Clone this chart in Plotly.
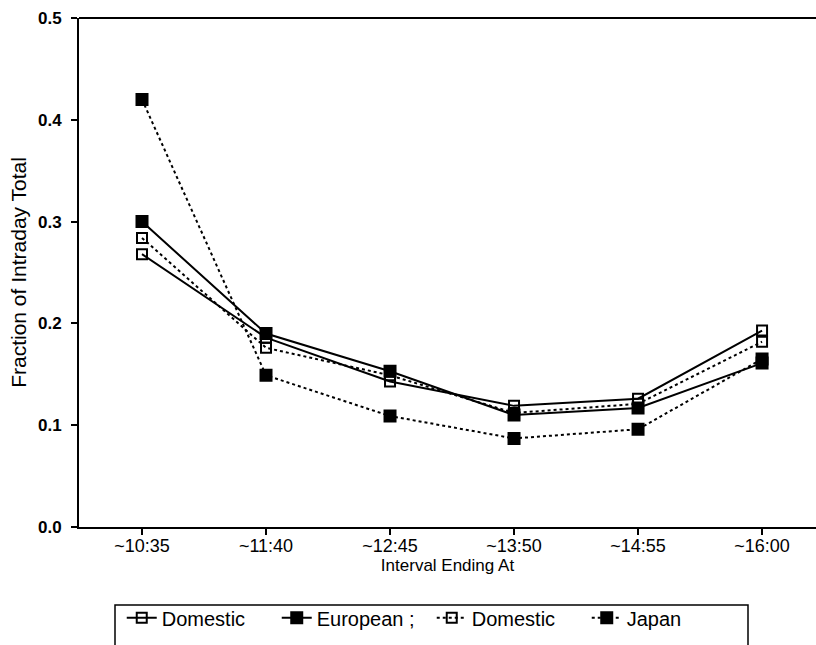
import plotly.graph_objects as go

# Interval end times (category axis)
intervals = ["~10:35", "~11:40", "~12:45", "~13:50", "~14:55", "~16:00"]

# Fraction of intraday total per interval
domestic_a = [0.268, 0.186, 0.143, 0.119, 0.126, 0.193]
european = [0.300, 0.190, 0.153, 0.110, 0.117, 0.161]
domestic_b = [0.284, 0.176, 0.149, 0.112, 0.121, 0.182]
japan = [0.420, 0.149, 0.109, 0.087, 0.096, 0.165]

y_ticks = [0.0, 0.1, 0.2, 0.3, 0.4, 0.5]

FONT = "Liberation Sans, Arial, sans-serif"

series = [
    ("Domestic", domestic_a, "solid", "square-open"),
    ("European ;", european, "solid", "square"),
    ("Domestic", domestic_b, "dot", "square-open"),
    ("Japan", japan, "dot", "square"),
]

fig = go.Figure()
xpos = list(range(len(intervals)))
for name, vals, dash, sym in series:
    fig.add_trace(go.Scatter(
        x=xpos, y=vals, name=name, mode="lines+markers",
        line=dict(color="black", width=2, dash=dash),
        marker=dict(symbol=sym, size=11 if sym == "square" else 10,
                    color="black", line=dict(color="black", width=2)),
    ))

fig.update_layout(
    width=816, height=645,
    margin=dict(l=79, r=0, t=18, b=118),
    paper_bgcolor="white", plot_bgcolor="white",
    font=dict(family=FONT, size=16, color="black"),
    showlegend=True,
    legend=dict(
        orientation="h", x=0.058, y=-0.14, xanchor="left", yanchor="top",
        font=dict(family=FONT, size=20, color="black"),
        bgcolor="rgba(0,0,0,0)", itemwidth=30, tracegroupgap=0,
        entrywidth=110, entrywidthmode="pixels",
    ),
    xaxis=dict(
        range=[-0.508, 5.435],
        tickmode="array", tickvals=xpos, ticktext=intervals,
        showgrid=False, zeroline=False,
        showline=True, linecolor="black", linewidth=2, mirror=False,
        ticks="outside", ticklen=6, tickwidth=1.5, tickcolor="black",
        ticklabelstandoff=-5,
        tickfont=dict(family=FONT, size=18, color="black"),
        title=dict(text="Interval Ending At", standoff=2,
                   font=dict(family=FONT, size=17, color="black")),
    ),
    yaxis=dict(
        range=[0, 0.5],
        tickmode="array", tickvals=y_ticks,
        ticktext=[f"{v:.1f}" for v in y_ticks],
        showgrid=False, zeroline=False,
        showline=True, linecolor="black", linewidth=2,
        ticks="outside", ticklen=6, tickwidth=1.5, tickcolor="black",
        ticklabelstandoff=6,
        tickfont=dict(family=FONT, size=17, color="black", weight="bold"),
        title=dict(text="Fraction of Intraday Total", standoff=6,
                   font=dict(family=FONT, size=21, color="black")),
    ),
)

# Top frame line across the plot
fig.add_shape(type="line", xref="paper", yref="paper",
              x0=0, x1=1, y0=1, y1=1, line=dict(color="black", width=2))

# Legend frame below the plot
fig.add_shape(type="rect", xref="paper", yref="paper",
              x0=(115 - 79) / 737, x1=(748 - 79) / 737,
              y0=(527 - 660) / 509, y1=(527 - 605) / 509,
              line=dict(color="black", width=1.5))

fig.write_html("out.html")
